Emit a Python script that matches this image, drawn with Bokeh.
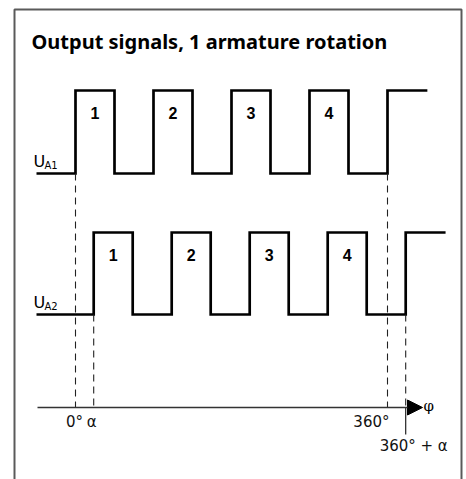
from bokeh.plotting import figure
from bokeh.models import Range1d, Arrow, NormalHead
from bokeh.core.properties import value
from bokeh.embed import file_html
from bokeh.resources import INLINE

# ---- data ----
title_text = "Output signals, 1 armature rotation"
channel_names = ["U", "U"]
channel_subs = ["A1", "A2"]
pulse_rises = [0, 90, 180, 270, 360]     # rising edges of U_A1 in degrees
pulse_width = 45                          # high time, degrees
alpha = 21                                # phase shift of U_A2, degrees
signal_start = -45
signal_end_a1 = 406
signal_end_a2 = 427
pulse_labels = ["1", "2", "3", "4"]
angle_labels = ["0°", "α", "360°", "360° + α"]
axis_symbol = "φ"

# ---- layout helpers (page px <-> degrees) ----
PX0 = 75.0            # page x of 0 deg
PPD = 312.0 / 360.0   # px per degree
def deg(px):
    return (px - PX0) / PPD

W, H = 466, 479
p = figure(width=W, height=H, output_backend="svg", toolbar_location=None,
           x_range=Range1d(deg(0), deg(W)), y_range=Range1d(H, 0),
           min_border=0, outline_line_color=None)
p.axis.visible = False
p.grid.visible = False
p.background_fill_color = "white"
p.border_fill_color = "white"

# frame
p.line([deg(14), deg(14), deg(461), deg(461)], [495, 9, 9, 495],
       line_color="#5a5a5a", line_width=2)

p.text([deg(31)], [41], text=[title_text], text_font=value("Noto Sans"),
       text_font_style="bold", text_font_size="20px", text_baseline="middle",
       text_color="black")

def wave(shift, end):
    xs, ys = [signal_start], ["low"]
    for r in pulse_rises:
        a = r + shift
        xs += [a, a]
        ys += ["low", "high"]
        f = a + pulse_width
        if f < end and r != pulse_rises[-1]:
            xs += [f, f]
            ys += ["high", "low"]
    xs.append(end)
    ys.append("high")
    return xs, ys

levels = [(173, 90), (314, 232)]
shifts = [0, alpha]
ends = [signal_end_a1, signal_end_a2]
for i in range(2):
    lo, hi = levels[i]
    xs, ys = wave(shifts[i], ends[i])
    yv = [lo if y == "low" else hi for y in ys]
    p.line(xs, yv, line_color="black", line_width=2.7, line_join="miter")
    # channel label
    p.text([deg(33)], [lo - 12], text=[channel_names[i]], text_font=value("DejaVu Sans"),
           text_font_size="16px", text_baseline="middle", text_color="black")
    p.text([deg(44)], [lo - 8], text=[channel_subs[i]], text_font=value("DejaVu Sans"),
           text_font_size="10px", text_baseline="middle", text_color="black")
    # pulse numbers
    cx = [r + shifts[i] + pulse_width / 2 for r in pulse_rises[:4]]
    p.text(cx, [hi + 22] * 4, text=pulse_labels, text_font=value("Liberation Sans"),
           text_font_style="bold", text_font_size="16px", text_align="center",
           text_baseline="middle", text_color="black")

AXIS_Y = 407
# dashed guides
dash_x = [0, alpha, 360, 360 + alpha]
dash_top = [173, 314, 173, 314]
for x, t in zip(dash_x, dash_top):
    p.line([x, x], [t, AXIS_Y], line_color="#222222", line_width=1.1, line_dash="7 5")
p.line([360 + alpha, 360 + alpha], [AXIS_Y, 434], line_color="#222222", line_width=1.2)

# axis with arrow
p.add_layout(Arrow(end=NormalHead(size=15, fill_color="black", line_color="black"),
                   x_start=deg(37), y_start=AXIS_Y, x_end=deg(422), y_end=AXIS_Y,
                   line_color="#333333", line_width=1.5))
p.text([deg(423)], [AXIS_Y - 2], text=[axis_symbol], text_font=value("DejaVu Serif"),
       text_font_size="15px", text_baseline="middle", text_color="black")

lab_font = value("DejaVu Sans")
p.text([0], [421], text=[angle_labels[0]], text_font=lab_font, text_font_size="15px",
       text_align="center", text_baseline="middle", x_offset=-1, text_color="#111111")
p.text([alpha], [421], text=[angle_labels[1]], text_font=lab_font, text_font_size="15px",
       text_align="center", text_baseline="middle", x_offset=-2, text_color="#111111")
p.text([360], [421], text=[angle_labels[2]], text_font=lab_font, text_font_size="15px",
       text_align="right", text_baseline="middle", x_offset=2, text_color="#111111")
p.text([360 + alpha], [445], text=[angle_labels[3]], text_font=lab_font, text_font_size="15px",
       text_align="center", text_baseline="middle", x_offset=8, text_color="#111111")

open("out.html", "w").write(file_html(p, INLINE))
